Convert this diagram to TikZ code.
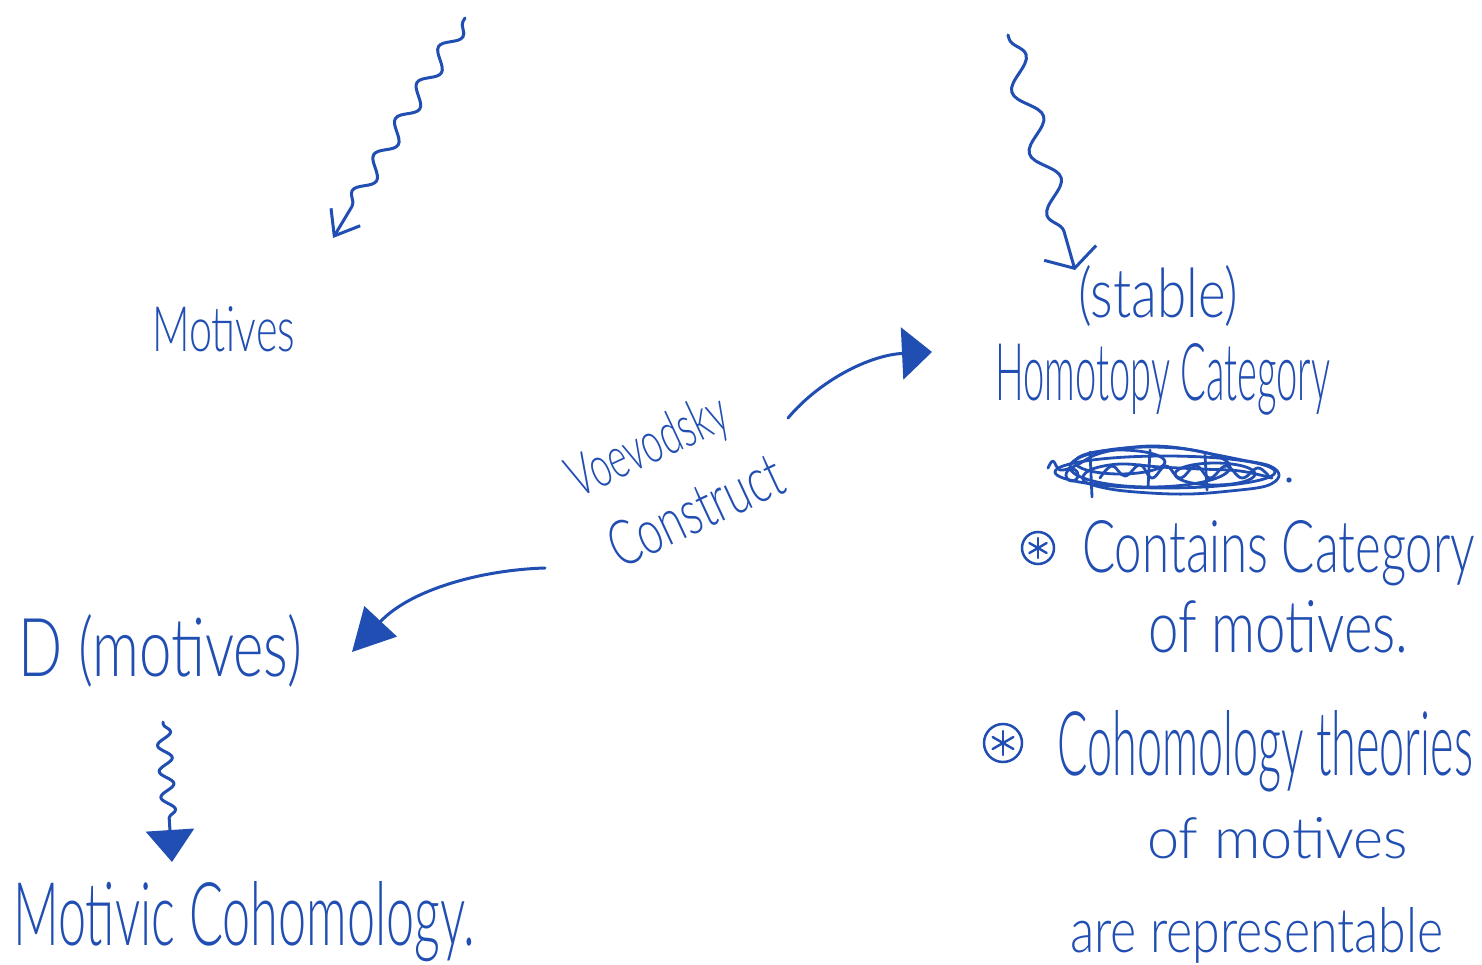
\documentclass[tikz,border=0pt]{standalone}
\usepackage{fontspec}
\setmainfont{Lato Light}
\usetikzlibrary{arrows.meta,decorations.pathmorphing}
\definecolor{pen}{RGB}{33,78,178}
\newcommand{\hw}[3]{\resizebox{#1pt}{#2pt}{#3}}
\begin{document}
\begin{tikzpicture}[x=1pt,y=-1pt,
  txt/.style={inner sep=0pt, anchor=base west, text=pen},
  rtxt/.style={inner sep=0pt, text=pen, rotate=25},
  ink/.style={draw=pen, line width=3pt, line cap=round, line join=round},
  scrib/.style={draw=pen, line width=2.8pt, line cap=round, line join=round},
  starball/.style={circle, draw=pen, line width=2.5pt, inner sep=0pt}]
\useasboundingbox (0,0) rectangle (1482,965);
\fill[white] (0,0) rectangle (1482,965);

% texts
\node[txt] (motives) at (152,352) {\hw{143}{45}{Motives}};
\node[txt] (stable) at (1078,318) {\hw{160}{52}{(stable)}};
\node[txt] (homotopy) at (995,400) {\hw{335}{57}{Homotopy Category}};
\node[txt] (contains) at (1082,572) {\hw{393}{52}{Contains Category}};
\node[txt] (of1) at (1148,652) {\hw{260}{52}{of motives.}};
\node[txt] (cohth) at (1057,775) {\hw{416}{65}{Cohomology theories}};
\node[txt] (of2) at (1147,858) {\hw{261}{41}{of motives}};
\node[txt] (repr) at (1070,952) {\hw{373}{45}{are representable}};
\node[txt] (dmot) at (18,676) {\hw{284}{62}{D (motives)}};
\node[txt] (motcoh) at (13,945) {\hw{462}{64}{Motivic Cohomology.}};
\node[rtxt] (voev) at (649,448) {\hw{170}{42}{Voevodsky}};
\node[rtxt] (constr) at (695,510) {\hw{186}{45}{Construct}};

% circled asterisks
\node[starball, minimum size=32pt] (b1) at (1038,548) {};
\node[starball, minimum size=38pt] (b2) at (1003,743) {};
\foreach \a in {90,30,150}{
  \draw[scrib, line width=2.4pt] ([shift={(\a:10pt)}]b1.center) -- ([shift={(\a+180:10pt)}]b1.center);
  \draw[scrib, line width=2.4pt] ([shift={(\a:12pt)}]b2.center) -- ([shift={(\a+180:12pt)}]b2.center);
}

% crossed-out scribble
\draw[scrib] plot[smooth, tension=0.6] coordinates {(1048,468) (1053,461) (1060,470) (1075,466) (1095,455) (1120,449) (1150,446) (1180,448) (1212,454) (1242,460) (1270,466) (1279,476) (1266,486) (1230,491) (1190,494) (1150,493) (1110,489) (1084,481) (1090,470) (1120,464) (1160,467) (1200,469) (1240,471) (1272,478)};
\draw[scrib] (1165,472) ellipse [x radius=110, y radius=16];
\draw[scrib] (1150,467) ellipse [x radius=80, y radius=20];
\draw[scrib] (1120,462) ellipse [x radius=45, y radius=12];
\draw[scrib] (1215,474) ellipse [x radius=40, y radius=11];
\draw[scrib] plot[smooth, tension=0.7] coordinates {(1100,478) (1112,466) (1125,476) (1140,465) (1152,478) (1166,466) (1180,478) (1196,466) (1210,478) (1226,466) (1242,478) (1258,468) (1270,478)};
\draw[scrib] (1090,452) -- (1092,497);
\draw[scrib] (1205,455) -- (1207,490);
\draw[scrib] (1150,450) -- (1148,488);
\draw[scrib] (1072,475) circle (6);
\fill[pen] (1289,480) circle (2.6);

% coordinates for connectors
\coordinate (tlA) at (465,18);
\coordinate (tlB) at (333,238);
\coordinate (trA) at (1008,35);
\coordinate (trB) at (1075,270);
\coordinate (vA) at (788,418);
\coordinate (vB) at (932,352);
\coordinate (lA) at (545,568);
\coordinate (lB) at (352,652);
\coordinate (bA) at (163,722);
\coordinate (bB) at (172,862);

% squiggly arrows
\draw[ink, decorate, decoration={snake, amplitude=8pt, segment length=42pt, pre length=4pt, post length=20pt},
  -{Straight Barb[length=22pt,width=34pt]}] (tlA) -- (tlB);
\draw[ink, decorate, decoration={snake, amplitude=12pt, segment length=64pt, pre length=4pt, post length=22pt},
  -{Straight Barb[length=16pt,width=54pt]}] (trA) -- (trB);
\draw[ink, decorate, decoration={snake, amplitude=7pt, segment length=26pt, pre length=2pt, post length=36pt},
  -{Triangle[length=32pt,width=48pt]}] (bA) -- (bB);

% Voevodsky arrows
\draw[ink, -{Triangle[length=30pt,width=52pt]}] (vA) .. controls (820,380) and (870,355) .. (vB);
\draw[ink, -{Triangle[length=42pt,width=44pt]}] (lA) .. controls (480,570) and (410,590) .. (lB);
\end{tikzpicture}
\end{document}
